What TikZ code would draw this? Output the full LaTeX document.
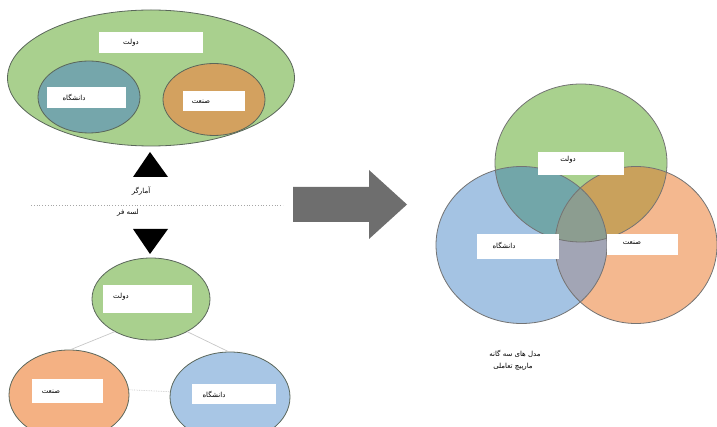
\documentclass[tikz,border=0pt]{standalone}
\usepackage{fontspec}
\newfontfamily\arabicfont[Script=Arabic]{DejaVu Sans}
\TeXXeTstate=1
\usetikzlibrary{shapes.geometric}
\definecolor{gA}{HTML}{A9D08E}
\definecolor{tealA}{HTML}{75A6AB}
\definecolor{brA}{HTML}{D3A15F}
\definecolor{orA}{HTML}{F4B183}
\definecolor{blA}{HTML}{A8C6E5}
\definecolor{vG}{HTML}{A9D18E}
\definecolor{vB}{HTML}{A4C3E3}
\definecolor{vO}{HTML}{F4B88F}
\definecolor{vGB}{HTML}{72A6A9}
\definecolor{vGO}{HTML}{C9A15C}
\definecolor{vBO}{HTML}{A2A5B5}
\definecolor{vGBO}{HTML}{8C9D90}
\definecolor{edge}{HTML}{5A665A}
\definecolor{arrowgrey}{HTML}{6E6E6E}
\tikzset{
  ell/.style={ellipse, draw=edge, line width=0.8pt, inner sep=0pt},
  wbox/.style={rectangle, fill=white, draw=none, inner sep=0pt},
  ar/.style={font=\arabicfont\fontsize{7}{8}\selectfont, inner sep=0pt, text=black},
  thinlink/.style={draw=black!22, line width=0.7pt},
  vedge/.style={draw=black!55, line width=0.8pt}
}
\newcommand{\rtl}[1]{\beginR #1\endR}
\begin{document}
\begin{tikzpicture}[x=1pt,y=-1pt]
\useasboundingbox (0,0) rectangle (717,427);
\begin{scope}
\clip (0,0) rectangle (717,427);
% ---------- top nested diagram ----------
\node[ell, fill=gA, minimum width=287, minimum height=136] (gov1) at (151,78) {};
\node[wbox, minimum width=104, minimum height=21] (gov1b) at (151,42.5) {};
\node[ar] (gov1t) at (131,42.5) {\rtl{دولت}};
\node[ell, fill=tealA, minimum width=102, minimum height=72] (uni1) at (89,97) {};
\node[wbox, minimum width=79, minimum height=21] (uni1b) at (86.5,97.5) {};
\node[ar] (uni1t) at (74,97.5) {\rtl{دانشگاه}};
\node[ell, fill=brA, minimum width=102, minimum height=72] (ind1) at (214,99.5) {};
\node[wbox, minimum width=62, minimum height=20] (ind1b) at (214,101) {};
\node[ar] (ind1t) at (201,102) {\rtl{صنعت}};
% ---------- triangles and separator ----------
\fill[black] (150,152) -- (168,177) -- (133,177) -- cycle;
\node[ar] (statist) at (141,191) {\rtl{آمارگر}};
\coordinate (sepL) at (31,205);
\coordinate (sepR) at (283,205);
\draw[black!35, line width=0.8pt, dotted] (sepL) -- (sepR);
\node[ar] (laissez) at (128,213) {\rtl{لسه فر}};
\fill[black] (133,229) -- (168,229) -- (150,254) -- cycle;
% ---------- lower laissez-faire diagram ----------
\node[ell, fill=gA, minimum width=118, minimum height=82] (gov2) at (151,299) {};
\node[ell, fill=orA, minimum width=120, minimum height=90] (ind2) at (69,395) {};
\node[ell, fill=blA, minimum width=120, minimum height=90] (uni2) at (230,397) {};
\draw[thinlink] (gov2.222) -- (ind2.88);
\draw[thinlink] (gov2.318) -- (uni2.92);
\draw[thinlink, densely dotted] (ind2.5) -- (uni2.175);
\node[wbox, minimum width=89, minimum height=28] (gov2b) at (147.5,299) {};
\node[ar] (gov2t) at (121,297) {\rtl{دولت}};
\node[wbox, minimum width=71, minimum height=24] (ind2b) at (67.5,391) {};
\node[ar] (ind2t) at (51,392) {\rtl{صنعت}};
\node[wbox, minimum width=84, minimum height=20] (uni2b) at (234,394) {};
\node[ar] (uni2t) at (214,394) {\rtl{دانشگاه}};
% ---------- big arrow ----------
\fill[arrowgrey] (293,187) -- (369,187) -- (369,170) -- (407,204.5) -- (369,239) -- (369,222) -- (293,222) -- cycle;
% ---------- Venn (triple helix) ----------
\coordinate (vg) at (581,163);
\coordinate (vb) at (521.5,245);
\coordinate (vo) at (636,245);
\def\GC{(vg) ellipse [x radius=86, y radius=79]}
\def\BC{(vb) ellipse [x radius=85.5, y radius=78.5]}
\def\OC{(vo) ellipse [x radius=81, y radius=78.5]}
\fill[vG] \GC;
\fill[vB] \BC;
\fill[vO] \OC;
\begin{scope}\clip \GC; \fill[vGB] \BC; \end{scope}
\begin{scope}\clip \GC; \fill[vGO] \OC; \end{scope}
\begin{scope}\clip \BC; \fill[vBO] \OC; \end{scope}
\begin{scope}\clip \GC; \clip \BC; \fill[vGBO] \OC; \end{scope}
\draw[vedge] \GC;
\draw[vedge] \BC;
\draw[vedge] \OC;
\node[wbox, minimum width=86, minimum height=23] (gov3b) at (581,163.5) {};
\node[ar] (gov3t) at (568,160) {\rtl{دولت}};
\node[wbox, minimum width=82, minimum height=25] (uni3b) at (518,246.5) {};
\node[ar] (uni3t) at (504,245) {\rtl{دانشگاه}};
\node[wbox, minimum width=71, minimum height=21] (ind3b) at (642.5,244.5) {};
\node[ar] (ind3t) at (632,243) {\rtl{صنعت}};
\node[ar] (cap1) at (515,354) {\rtl{مدل های سه گانه}};
\node[ar] (cap2) at (513,367) {\rtl{مارپیچ تعاملی}};
\end{scope}
\end{tikzpicture}
\end{document}
